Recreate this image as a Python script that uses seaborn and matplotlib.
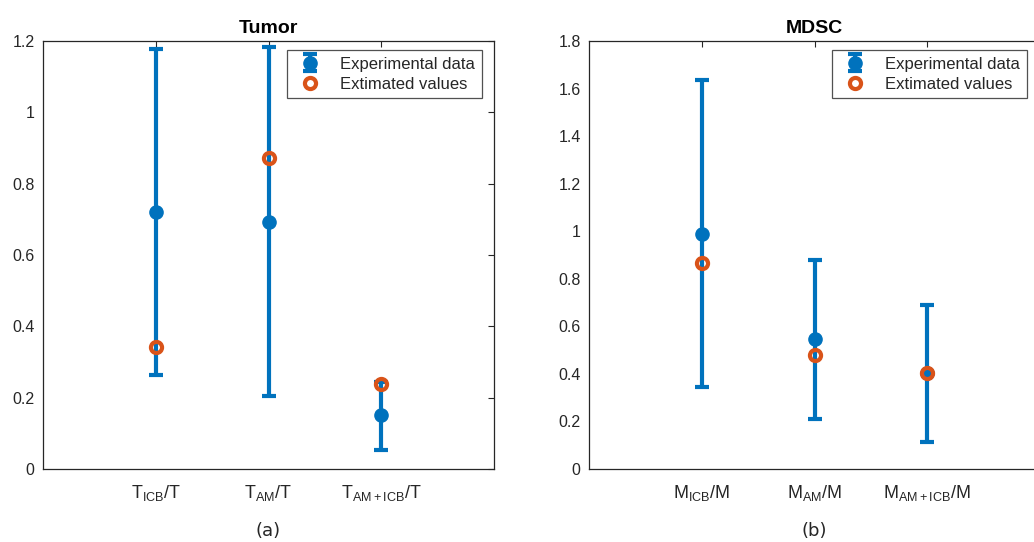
import matplotlib
matplotlib.use("Agg")
import matplotlib.pyplot as plt
import seaborn as sns
import numpy as np
import pandas as pd

# ---- data ----
tumor_labels = [r"$\mathrm{T}_{\mathrm{ICB}}$/T", r"$\mathrm{T}_{\mathrm{AM}}$/T", r"$\mathrm{T}_{\mathrm{AM+ICB}}$/T"]
tumor_exp = [0.72, 0.693, 0.151]
tumor_upper = [1.177, 1.183, 0.245]
tumor_lower = [0.264, 0.205, 0.053]
tumor_est = [0.342, 0.872, 0.238]

mdsc_labels = [r"$\mathrm{M}_{\mathrm{ICB}}$/M", r"$\mathrm{M}_{\mathrm{AM}}$/M", r"$\mathrm{M}_{\mathrm{AM+ICB}}$/M"]
mdsc_exp = [0.99, 0.545, 0.405]
mdsc_upper = [1.638, 0.878, 0.688]
mdsc_lower = [0.343, 0.210, 0.113]
mdsc_est = [0.865, 0.478, 0.405]

positions = [1, 2, 3]

sns.set_style("white")
plt.rcParams["font.family"] = ["Liberation Sans", "DejaVu Sans"]
plt.rcParams["mathtext.fontset"] = "custom"
plt.rcParams["mathtext.rm"] = "Liberation Sans"
plt.rcParams["mathtext.it"] = "Liberation Sans:italic"
plt.rcParams["mathtext.bf"] = "Liberation Sans:bold"

BLUE = "#0072BD"
ORANGE = "#D95319"
AXC = "#262626"

fig = plt.figure(figsize=(10.34, 5.42), dpi=100)
axL = fig.add_axes([43 / 1034, 73 / 542, 451 / 1034, 428 / 542])
axR = fig.add_axes([589 / 1034, 73 / 542, 451 / 1034, 428 / 542])


def panel(ax, labels, exp, up, lo, est, ylim, yticks, ytl, title, sub, legx):
    exp = np.array(exp)
    yerr = np.vstack([exp - np.array(lo), np.array(up) - exp])
    eb = ax.errorbar(positions, exp, yerr=yerr, fmt="o", color=BLUE, ecolor=BLUE,
                     elinewidth=3, capsize=5, capthick=3, markersize=9.5,
                     zorder=2)
    df = pd.DataFrame({"x": positions, "y": est})
    sns.lineplot(data=df, x="x", y="y", ax=ax, linestyle="none", marker="o",
                 markersize=8, markerfacecolor="none", markeredgecolor=ORANGE,
                 markeredgewidth=3, zorder=3, legend=False)
    est_handle = plt.Line2D([], [], linestyle="none", marker="o", markersize=8,
                            markerfacecolor="none", markeredgecolor=ORANGE,
                            markeredgewidth=3)
    ax.set_xlim(0, 4)
    ax.set_ylim(*ylim)
    ax.set_xticks(positions)
    ax.set_xticklabels(labels, fontsize=13)
    ax.set_yticks(yticks)
    ax.set_yticklabels(ytl, fontsize=11.5)
    ax.set_xlabel("")
    ax.set_ylabel("")
    ax.tick_params(direction="in", length=4, width=0.8, color=AXC, labelcolor=AXC,
                   top=True, right=True, pad=6)
    ax.tick_params(axis="x", pad=10)
    for s in ax.spines.values():
        s.set_color(AXC)
        s.set_linewidth(0.9)
    ax.set_title(title, fontsize=14, fontweight="bold", pad=6, color="black")
    leg = ax.legend([eb, est_handle], ["Experimental data", "Extimated values"],
                    loc="upper right", bbox_to_anchor=(legx, 0.979),
                    fontsize=12, frameon=True, fancybox=False, edgecolor=AXC,
                    handlelength=2.0, handletextpad=0.8, borderpad=0.4,
                    labelspacing=0.3, borderaxespad=0)
    leg.get_frame().set_linewidth(0.9)
    ax.text(0.5, -0.125, sub, transform=ax.transAxes, ha="center", va="top",
            fontsize=13, family="DejaVu Sans")


panel(axL, tumor_labels, tumor_exp, tumor_upper, tumor_lower, tumor_est,
      (0, 1.2), [0, 0.2, 0.4, 0.6, 0.8, 1.0, 1.2],
      ["0", "0.2", "0.4", "0.6", "0.8", "1", "1.2"], "Tumor", "(a)",
      (482 - 43) / 451)
panel(axR, mdsc_labels, mdsc_exp, mdsc_upper, mdsc_lower, mdsc_est,
      (0, 1.8), [0, 0.2, 0.4, 0.6, 0.8, 1.0, 1.2, 1.4, 1.6, 1.8],
      ["0", "0.2", "0.4", "0.6", "0.8", "1", "1.2", "1.4", "1.6", "1.8"], "MDSC", "(b)",
      (1027 - 589) / 451)

fig.savefig("out.png", dpi=100)
